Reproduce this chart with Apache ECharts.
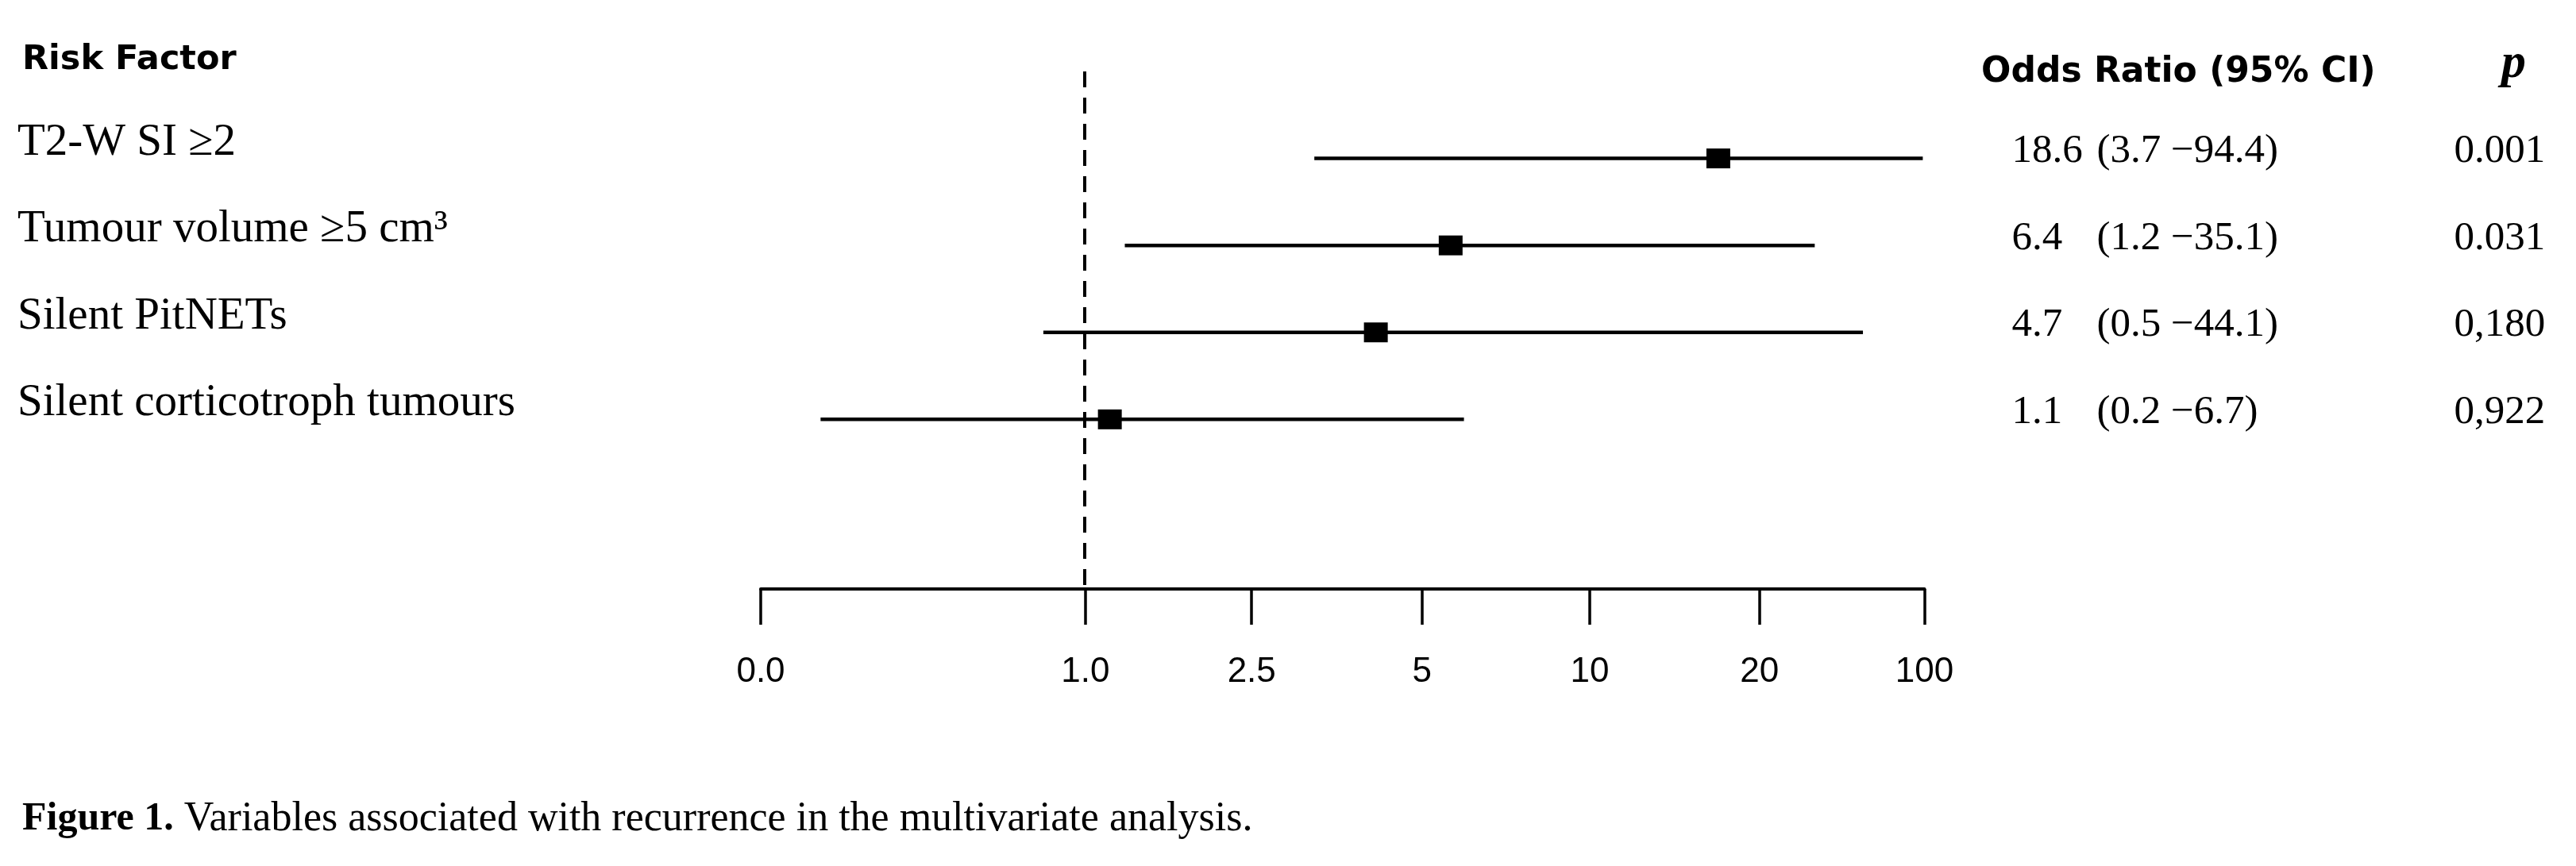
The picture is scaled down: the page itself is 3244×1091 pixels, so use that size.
<!DOCTYPE html>
<html>
<head>
<meta charset="utf-8">
<title>Forest plot</title>
<script src="https://cdn.jsdelivr.net/npm/echarts@6/dist/echarts.min.js"></script>
<style>
html, body {
  margin: 0;
  padding: 0;
  background: #fff;
}
#chart {
  width: 3244px;
  height: 1091px;
}
</style>
</head>
<body>
<div id="chart"></div>
<script>
// rows of the table
var riskFactors = ['T2-W SI ≥2', 'Tumour volume ≥5 cm³', 'Silent PitNETs', 'Silent corticotroph tumours'];
var rowIndex = [1, 2, 3, 4];
var orText = ['18.6', '6.4', '4.7', '1.1'];
var ciText = ['(3.7 −94.4)', '(1.2 −35.1)', '(0.5 −44.1)', '(0.2 −6.7)'];
var pText = ['0.001', '0.031', '0,180', '0,922'];

// x axis is not linear, values are positions on the drawn scale
var tickPos = [0, 1.953, 2.953, 3.977, 4.987, 6.008, 7];
var tickLabels = ['0.0', '1.0', '2.5', '5', '10', '20', '100'];
var orPos = [5.76, 4.15, 3.70, 2.10];
var ciLowPos = [3.33, 2.19, 1.70, 0.36];
var ciHighPos = [6.99, 6.34, 6.63, 4.23];

var myChart = null;

function tickLabel(v) {
  for (var i = 0; i < tickPos.length; i++) {
    if (Math.abs(tickPos[i] - v) < 1e-6) return tickLabels[i];
  }
  return '';
}

function setOptions() {
  var ciData = rowIndex.map(function (r, i) {
    return [ciLowPos[i], ciHighPos[i], r];
  });
  var orData = rowIndex.map(function (r, i) {
    return [orPos[i], r];
  });
  var option = {
    backgroundColor: '#fff',
    animation: false,
    title: [
      {
        text: 'Risk Factor',
        left: 28,
        top: 54,
        padding: 0,
        textStyle: { fontFamily: 'DejaVu Sans', fontWeight: 'bold', fontSize: 43, color: '#000' }
      },
      {
        text: 'Odds Ratio (95% CI)',
        left: 2495,
        top: 70,
        padding: 0,
        textStyle: { fontFamily: 'DejaVu Sans', fontWeight: 'bold', fontSize: 44, color: '#000' }
      },
      {
        text: 'p',
        left: 3150,
        top: 50,
        padding: 0,
        textStyle: {
          fontFamily: 'Liberation Serif',
          fontStyle: 'italic',
          fontWeight: 'bold',
          fontSize: 62,
          color: '#000'
        }
      },
      {
        text: '{b|Figure 1.} Variables associated with recurrence in the multivariate analysis.',
        left: 28,
        top: 1006,
        padding: 0,
        textStyle: {
          fontFamily: 'Liberation Serif',
          fontWeight: 'normal',
          fontSize: 52,
          color: '#000',
          rich: {
            b: { fontFamily: 'Liberation Serif', fontWeight: 'bold', fontSize: 50, color: '#000' }
          }
        }
      }
    ],
    grid: {
      left: 958,
      right: 820.5,
      top: 90,
      bottom: 349,
      containLabel: false
    },
    xAxis: {
      type: 'value',
      position: 'bottom',
      min: 0,
      max: 7,
      splitLine: { show: false },
      axisLine: {
        show: true,
        onZero: false,
        lineStyle: { color: '#000', width: 4 }
      },
      axisTick: {
        show: true,
        customValues: tickPos,
        length: 45,
        lineStyle: { color: '#000', width: 3.5 }
      },
      axisLabel: {
        customValues: tickPos,
        formatter: tickLabel,
        margin: 83,
        fontFamily: 'Liberation Sans',
        fontSize: 44,
        color: '#000',
        hideOverlap: false
      }
    },
    yAxis: [
      {
        type: 'value',
        inverse: true,
        min: 0,
        max: 5.95,
        position: 'left',
        splitLine: { show: false },
        axisLine: { show: false },
        axisTick: { show: false },
        axisLabel: {
          customValues: rowIndex,
          formatter: function (v) {
            return riskFactors[v - 1];
          },
          align: 'left',
          verticalAlign: 'bottom',
          lineHeight: 40,
          margin: 936,
          fontFamily: 'Liberation Serif',
          fontSize: 57,
          color: '#000'
        }
      },
      {
        type: 'value',
        inverse: true,
        min: 0,
        max: 5.95,
        position: 'right',
        splitLine: { show: false },
        axisLine: { show: false },
        axisTick: { show: false },
        axisLabel: {
          customValues: rowIndex,
          formatter: function (v) {
            var i = v - 1;
            return '{a|' + orText[i] + '}{b|' + ciText[i] + '}{c|' + pText[i] + '}';
          },
          align: 'left',
          margin: 110,
          padding: [0, 0, 18, 0],
          fontFamily: 'Liberation Serif',
          fontSize: 51,
          color: '#000',
          rich: {
            a: { width: 107, fontFamily: 'Liberation Serif', fontSize: 51, color: '#000' },
            b: { width: 450, fontFamily: 'Liberation Serif', fontSize: 51, color: '#000' },
            c: { fontFamily: 'Liberation Serif', fontSize: 51, color: '#000' }
          }
        }
      }
    ],
    series: [
      {
        name: 'CI',
        type: 'custom',
        xAxisIndex: 0,
        yAxisIndex: 0,
        encode: { x: [0, 1], y: 2 },
        renderItem: function (params, api) {
          var a = api.coord([api.value(0), api.value(2)]);
          var b = api.coord([api.value(1), api.value(2)]);
          return {
            type: 'line',
            shape: { x1: a[0], y1: a[1], x2: b[0], y2: b[1] },
            style: { stroke: '#000', lineWidth: 4.5 }
          };
        },
        data: ciData
      },
      {
        name: 'Odds Ratio',
        type: 'scatter',
        xAxisIndex: 0,
        yAxisIndex: 0,
        symbol: 'rect',
        symbolSize: [30, 25],
        itemStyle: { color: '#000', opacity: 1 },
        z: 3,
        markLine: {
          silent: true,
          symbol: ['none', 'none'],
          label: { show: false },
          lineStyle: { color: '#000', width: 4, type: [20, 13], opacity: 1 },
          data: [{ xAxis: tickPos[1] }]
        },
        data: orData
      }
    ]
  };
  return option;
}

function chartInit(options) {
  if (myChart == null) {
    myChart = echarts.init(document.getElementById('chart'));
  } else {
    myChart.clear();
  }
  myChart.setOption(options);
}

chartInit(setOptions());
</script>
</body>
</html>
